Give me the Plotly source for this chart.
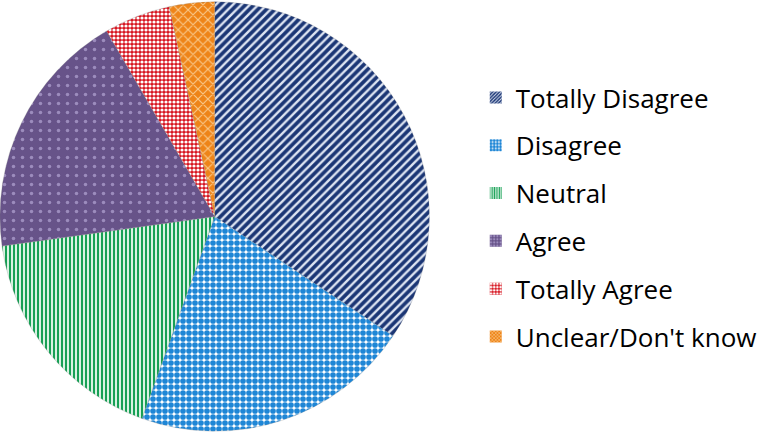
import plotly.graph_objects as go

labels = ["Totally Disagree", "Disagree", "Neutral", "Agree", "Totally Agree", "Unclear/Don't know"]
values = [34.4, 21.1, 17.3, 18.8, 5.0, 3.4]

bg_colors = ["#1B3675", "#FFFFFF", "#D8F2E2", "#675389", "#D7141F", "#EE8418"]
fg_colors = ["#DDE4F2", "#1E86D6", "#17A055", "#9C8CBD", "#FFFFFF", "#F9C98C"]
shapes = ["/", ".", "|", ".", ".", "x"]
sizes = [6, 6, 4, 9, 4, 7]
solidity = [0.4, 0.7, 0.5, 0.12, 0.5, 0.3]

fig = go.Figure()
fig.add_trace(go.Pie(
    labels=labels, values=values, sort=False, direction="clockwise", rotation=0,
    textinfo="none", hoverinfo="label+percent", showlegend=False,
    domain=dict(x=[0.0, 0.565], y=[0, 1]),
    marker=dict(colors=bg_colors,
                line=dict(color="rgba(120,120,120,0.4)", width=0.6),
                pattern=dict(shape=shapes, fgcolor=fg_colors, bgcolor=bg_colors,
                             size=sizes, solidity=solidity, fillmode="replace")),
))

# legend entries (one per category) so items can be spaced like the reference
for lab, bg, fg, sh, sz, so in zip(labels, bg_colors, fg_colors, shapes, sizes, solidity):
    fig.add_trace(go.Bar(
        x=[None], y=[None], name=lab, legendgroup=lab, showlegend=True,
        marker=dict(color=bg, line=dict(width=0),
                    pattern=dict(shape=sh, fgcolor=fg, bgcolor=bg, size=3 if sh != "." else 4,
                                 solidity=max(so, 0.4), fillmode="replace")),
        hoverinfo="skip",
    ))

fig.update_layout(
    width=762, height=433,
    margin=dict(l=0, r=0, t=0, b=0),
    paper_bgcolor="white", plot_bgcolor="white",
    xaxis=dict(visible=False, domain=[0.99, 1.0]),
    yaxis=dict(visible=False),
    legend=dict(x=0.626, y=0.829, xanchor="left", yanchor="top",
                font=dict(family="Open Sans, Liberation Sans, sans-serif", size=26, color="#000000"),
                tracegroupgap=11, itemwidth=30, traceorder="grouped",
                bgcolor="rgba(0,0,0,0)"),
)

fig.write_html("out.html", config={"displayModeBar": False},
               post_script="document.body.style.margin='0';document.body.style.overflow='hidden';")
